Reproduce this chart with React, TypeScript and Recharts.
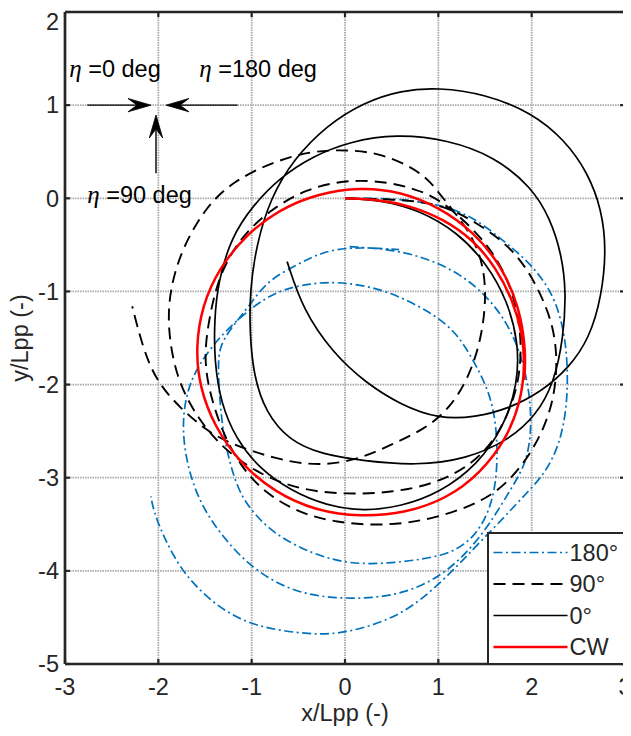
import React from 'react';
import { LineChart, Line, XAxis, YAxis, CartesianGrid, Legend, ReferenceLine, ReferenceDot } from 'recharts';

// ---------- data ----------
const xTicks = [-3, -2, -1, 0, 1, 2, 3];
const yTicks = [-5, -4, -3, -2, -1, 0, 1, 2];

// eta = 180 deg : path from the origin
const wave180A: [number, number][] = [
  [0, 0], [0.47, 0.0], [0.85, -0.04], [1.12, -0.1], [1.4, -0.22], [1.69, -0.45], [1.92, -0.64], [2.1, -0.84],
  [2.26, -1.1], [2.36, -1.48], [2.39, -1.9], [2.37, -2.3], [2.29, -2.67], [2.13, -2.97], [1.94, -3.17], [1.7, -3.43],
  [1.4, -3.74], [1.01, -4.15], [0.58, -4.5], [0.01, -4.67], [-0.35, -4.69], [-0.99, -4.6], [-1.38, -4.38],
  [-1.74, -4.03], [-1.95, -3.62], [-2.05, -3.36], [-2.08, -3.2],
];
// eta = 180 deg : inner double loop
const wave180B: [number, number][] = [
  [0.05, -0.52], [0.58, -0.55], [1.12, -0.73], [1.5, -1.02], [1.75, -1.35], [1.9, -1.72], [1.98, -2.1], [2.0, -2.5],
  [1.94, -2.85], [1.79, -3.1], [1.6, -3.42], [1.37, -3.74], [1.04, -4.06], [0.58, -4.27], [0.01, -4.31], [-0.56, -4.24],
  [-1.03, -3.95], [-1.32, -3.62], [-1.5, -3.36], [-1.64, -3.05], [-1.72, -2.7], [-1.74, -2.4], [-1.7, -2.1], [-1.6, -1.84],
  [-1.38, -1.52], [-1.02, -1.18], [-0.7, -0.98], [-0.38, -0.92], [-0.13, -0.89], [0.4, -0.96], [0.94, -1.23], [1.2, -1.45],
  [1.37, -1.73], [1.52, -2.02], [1.6, -2.3], [1.63, -2.6], [1.63, -2.95], [1.57, -3.3], [1.42, -3.6], [1.2, -3.78],
  [0.94, -3.86], [0.5, -3.92], [0.05, -3.93], [-0.35, -3.82], [-0.78, -3.6], [-1.1, -3.25], [-1.22, -2.9], [-1.3, -2.55],
  [-1.34, -2.2], [-1.36, -1.84], [-1.35, -1.59], [-1.21, -1.38], [-1.03, -1.16], [-0.83, -0.88], [-0.49, -0.7],
  [-0.25, -0.58], [0.05, -0.52], [0.58, -0.55],
];
// eta = 90 deg
const wave90: [number, number][] = [
  [0, 0], [0.5, -0.01], [1.0, -0.05], [1.4, -0.25], [1.83, -0.56], [2.08, -0.98], [2.24, -1.38], [2.28, -1.81],
  [2.22, -2.25], [2.05, -2.65], [1.8, -3.0], [1.5, -3.25], [0.94, -3.45], [0.4, -3.52], [-0.1, -3.48], [-0.49, -3.38],
  [-0.85, -3.17], [-1.12, -2.88], [-1.32, -2.5], [-1.46, -2.06], [-1.51, -1.7], [-1.46, -1.3], [-1.35, -0.82],
  [-1.12, -0.42], [-0.81, -0.13], [-0.42, 0.1], [0.01, 0.2], [0.44, 0.18], [0.75, 0.1], [1.0, 0.0], [1.35, -0.3],
  [1.62, -0.62], [1.8, -1.0], [1.89, -1.45], [1.88, -1.85], [1.8, -2.2], [1.6, -2.62], [1.3, -2.9], [0.94, -3.07],
  [0.5, -3.16], [0.0, -3.18], [-0.49, -3.13], [-0.95, -2.95], [-1.35, -2.65], [-1.62, -2.3], [-1.81, -1.91],
  [-1.9, -1.41], [-1.88, -0.98], [-1.74, -0.52], [-1.48, -0.08], [-1.2, 0.18], [-0.78, 0.39], [-0.35, 0.51],
  [0.01, 0.52], [0.35, 0.49], [0.69, 0.35], [0.9, 0.2], [1.05, 0.0], [1.28, -0.28], [1.45, -0.58], [1.52, -0.98],
  [1.47, -1.48], [1.33, -1.92], [1.12, -2.26], [0.85, -2.48], [0.51, -2.64], [0.16, -2.8], [-0.28, -2.88],
  [-0.75, -2.8], [-1.24, -2.63], [-1.49, -2.49], [-1.78, -2.24], [-2.03, -1.95], [-2.17, -1.59], [-2.28, -1.16],
];
// eta = 0 deg
const wave0: [number, number][] = [
  [0, 0], [0.4, -0.02], [0.8, -0.13], [1.2, -0.36], [1.52, -0.7], [1.74, -1.1], [1.86, -1.55], [1.85, -2.0],
  [1.7, -2.46], [1.42, -2.86], [1.02, -3.16], [0.6, -3.31], [0.2, -3.36], [-0.2, -3.3], [-0.58, -3.14], [-0.92, -2.9],
  [-1.17, -2.58], [-1.33, -2.2], [-1.4, -1.75], [-1.4, -1.3], [-1.36, -0.9], [-1.22, -0.42], [-0.99, -0.08],
  [-0.7, 0.22], [-0.35, 0.45], [0.05, 0.61], [0.55, 0.69], [1.1, 0.63], [1.6, 0.45], [2.0, 0.12], [2.2, -0.22],
  [2.32, -0.6], [2.37, -1.0], [2.34, -1.5], [2.24, -1.98], [2.05, -2.33], [1.75, -2.6], [1.3, -2.8], [0.76, -2.87],
  [0.2, -2.82], [-0.25, -2.75], [-0.6, -2.6], [-0.85, -2.3], [-0.98, -1.9], [-1.02, -1.45], [-1.02, -1.0],
  [-0.95, -0.5], [-0.8, 0.0], [-0.55, 0.42], [-0.2, 0.78], [0.2, 1.03], [0.6, 1.16], [1.0, 1.19], [1.5, 1.12],
  [2.0, 0.92], [2.35, 0.63], [2.6, 0.28], [2.75, -0.12], [2.8, -0.55], [2.75, -1.05], [2.62, -1.5], [2.4, -1.82],
  [2.1, -2.08], [1.75, -2.26], [1.4, -2.35], [1.01, -2.37], [0.6, -2.22], [0.22, -1.98], [-0.13, -1.66],
  [-0.45, -1.2], [-0.62, -0.68],
];
// calm water (CW)
const calmCW: [number, number][] = [
  [0, 0], [0.35, -0.01], [0.7, -0.08], [1.05, -0.22], [1.38, -0.45], [1.62, -0.75], [1.8, -1.1], [1.9, -1.45],
  [1.93, -1.8], [1.88, -2.2], [1.72, -2.6], [1.45, -2.95], [1.1, -3.22], [0.65, -3.38], [0.17, -3.42], [-0.3, -3.36],
  [-0.75, -3.16], [-1.12, -2.85], [-1.4, -2.45], [-1.56, -2.02], [-1.6, -1.6], [-1.53, -1.15], [-1.35, -0.75],
  [-1.05, -0.38], [-0.7, -0.12], [-0.3, 0.05], [0.17, 0.12], [0.6, 0.07], [1.0, -0.09], [1.38, -0.36],
  [1.68, -0.73], [1.87, -1.17], [1.94, -1.65], [1.92, -1.95],
];

// annotation (wave direction arrows)
const noteLabels = ['0 deg', '180 deg', '90 deg'];
const noteX = [-2.954, -1.561, -2.761];
const noteY = [1.3, 1.3, -0.05];
const arrowFrom = [{ x: -2.761, y: 1 }, { x: -1.151, y: 1 }, { x: -2.025, y: 0.268 }];
const arrowTo = [{ x: -2.079, y: 1 }, { x: -1.918, y: 1 }, { x: -2.025, y: 0.894 }];

const legendLabels = ['180°', '90°', '0°', 'CW'];

// ---------- helpers ----------
const toRows = (pts: [number, number][]) => pts.map(([x, y]) => ({ x, y }));

const AXIS = '#262626';
const BLUE = '#0072BD';
const FONT = '"Liberation Sans", Arial, Helvetica, sans-serif';
const FS = 23.5;

const styles = [
  { color: BLUE, width: 1.7, dash: '9 3.5 2 3.5' },
  { color: '#000000', width: 1.9, dash: '12 7' },
  { color: '#000000', width: 1.7, dash: undefined as string | undefined },
  { color: '#FF0000', width: 2.5, dash: undefined as string | undefined },
];

const ArrowShape = (p: any) => {
  const { x1, y1, x2, y2 } = p;
  const len = Math.hypot(x2 - x1, y2 - y1) || 1;
  const dx = (x2 - x1) / len;
  const dy = (y2 - y1) / len;
  const nx = -dy;
  const ny = dx;
  const L = 23, W = 6.7, N = 14;
  const bx = x2 - L * dx, by = y2 - L * dy;
  const pts = [
    [x2, y2],
    [bx + W * nx, by + W * ny],
    [x2 - N * dx, y2 - N * dy],
    [bx - W * nx, by - W * ny],
  ].map((q) => q.join(',')).join(' ');
  return (
    <g>
      <line x1={x1} y1={y1} x2={x2 - N * dx} y2={y2 - N * dy} stroke="#000" strokeWidth={1.4} />
      <polygon points={pts} fill="#000" stroke="#000" strokeWidth={0.8} />
    </g>
  );
};

const makeNote = (label: string) => (p: any) => (
  <text x={p.cx} y={p.cy} fontSize={FS} fill="#000" fontFamily={FONT}>
    <tspan fontFamily='"Liberation Serif", "DejaVu Serif", serif' fontStyle="italic" fontSize={25}>η</tspan>
    <tspan>{' =' + label}</tspan>
  </text>
);

const YLabel = (props: any) => {
  const vb = props.viewBox || { x: 0, y: 0, width: 0, height: 0 };
  const cx = vb.x + 20;
  const cy = vb.y + vb.height / 2;
  return (
    <text x={cx} y={cy} transform={`rotate(-90 ${cx} ${cy})`} textAnchor="middle" fontSize={FS} fill={AXIS} fontFamily={FONT}>
      y/Lpp (-)
    </text>
  );
};

const rowY = [18.5, 50, 81.5, 113];
const LegendBox = () => (
  <div style={{ width: 139, height: 133, border: `2px solid ${AXIS}`, background: '#fff', boxSizing: 'border-box' }}>
    <svg width={135} height={129} style={{ display: 'block' }}>
      {legendLabels.map((lab, i) => (
        <g key={lab}>
          <line x1={4.5} x2={78.5} y1={rowY[i]} y2={rowY[i]} stroke={styles[i].color} strokeWidth={styles[i].width} strokeDasharray={styles[i].dash} />
          <text x={80.5} y={rowY[i]} dy="0.36em" fontSize={FS} fill={AXIS} fontFamily={FONT}>{lab}</text>
        </g>
      ))}
    </svg>
  </div>
);

const noTick = () => <g />;

export default function App() {
  const series = [toRows(wave180A), toRows(wave90), toRows(wave0), toRows(calmCW)];
  const extra180 = toRows(wave180B);
  const common = { dot: false, activeDot: false, isAnimationActive: false, type: 'basis' as const, dataKey: 'y' };
  return (
    <div style={{ width: 623, height: 720, fontFamily: FONT }}>
      <LineChart width={623} height={720} margin={{ top: 3, right: 5, bottom: 0, left: 0 }}>
        <CartesianGrid stroke="#a8a8a8" strokeWidth={1.8} strokeDasharray="1.5 1" />
        <XAxis
          type="number"
          dataKey="x"
          domain={[-3, 3]}
          ticks={xTicks}
          allowDataOverflow
          height={64}
          stroke={AXIS}
          axisLine={{ stroke: AXIS, strokeWidth: 2.7 }}
          tickLine={{ stroke: AXIS, strokeWidth: 2.2 }}
          tickSize={-5}
          tickMargin={19}
          tick={{ fill: AXIS, fontSize: FS }}
          label={{ value: 'x/Lpp (-)', position: 'insideBottom', offset: 7, fill: AXIS, fontSize: FS }}
        />
        <XAxis
          xAxisId="top"
          orientation="top"
          type="number"
          dataKey="x"
          domain={[-3, 3]}
          ticks={xTicks}
          allowDataOverflow
          height={1}
          axisLine={{ stroke: AXIS, strokeWidth: 2.7 }}
          tickLine={{ stroke: AXIS, strokeWidth: 2.2 }}
          tickSize={-5}
          tick={noTick}
        />
        <YAxis
          type="number"
          domain={[-5, 2]}
          ticks={yTicks}
          allowDataOverflow
          width={57}
          axisLine={{ stroke: AXIS, strokeWidth: 2.7 }}
          tickLine={{ stroke: AXIS, strokeWidth: 2.2 }}
          tickSize={-5}
          tickMargin={11}
          tick={{ fill: AXIS, fontSize: FS }}
          label={<YLabel />}
        />
        <YAxis
          yAxisId="right"
          orientation="right"
          type="number"
          domain={[-5, 2]}
          ticks={yTicks}
          allowDataOverflow
          width={1}
          axisLine={{ stroke: AXIS, strokeWidth: 2.7 }}
          tickLine={{ stroke: AXIS, strokeWidth: 2.2 }}
          tickSize={-5}
          tick={noTick}
        />
        <Line data={series[0]} {...common} stroke={styles[0].color} strokeWidth={styles[0].width} strokeDasharray={styles[0].dash} />
        <Line data={extra180} {...common} stroke={styles[0].color} strokeWidth={styles[0].width} strokeDasharray={styles[0].dash} legendType="none" />
        <Line data={series[1]} {...common} stroke={styles[1].color} strokeWidth={styles[1].width} strokeDasharray={styles[1].dash} />
        <Line data={series[2]} {...common} stroke={styles[2].color} strokeWidth={styles[2].width} />
        <Line data={series[3]} {...common} stroke={styles[3].color} strokeWidth={styles[3].width} />
        {arrowFrom.map((a, i) => (
          <ReferenceLine key={'ar' + i} segment={[a, arrowTo[i]]} shape={ArrowShape} ifOverflow="visible" />
        ))}
        {noteLabels.map((lab, i) => (
          <ReferenceDot key={'nt' + i} x={noteX[i]} y={noteY[i]} r={0} shape={makeNote(lab)} ifOverflow="visible" />
        ))}
        <Legend
          content={<LegendBox />}
          layout="vertical"
          align="center"
          verticalAlign="middle"
          wrapperStyle={{ left: 478.7, top: 523.7, width: 139, height: 133 }}
        />
      </LineChart>
    </div>
  );
}
